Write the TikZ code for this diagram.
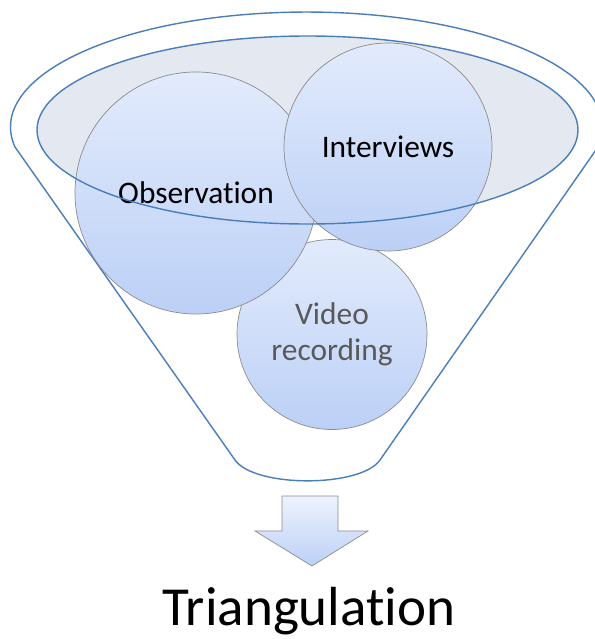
\documentclass[tikz,border=0pt]{standalone}
\usepackage{fontspec}
\setmainfont{Carlito}[Ligatures=NoCommon]
\usepackage{xcolor}
\usepackage{tikz}
\usetikzlibrary{shapes.geometric}

\definecolor{funnelblue}{RGB}{74,126,187}
\definecolor{rimgray}{RGB}{227,232,241}
\definecolor{ballborder}{RGB}{140,140,140}
\definecolor{balltop}{RGB}{226,235,252}
\definecolor{ballbottom}{RGB}{188,208,246}
\definecolor{labelgray}{RGB}{89,89,89}

\begin{document}
\begin{tikzpicture}[x=0.03cm,y=0.03cm]
                    \tikzstyle{ball}=[circle, draw=ballborder, line width=0.6pt, top color=balltop, bottom color=ballbottom, inner sep=0pt, align=center, font=\fontsize{26.8}{30.6}\selectfont]
                    \tikzstyle{funnel}=[draw=funnelblue, line width=1.2pt]
                    \useasboundingbox (0,0) rectangle (595,-639);
                    \draw [funnel, fill=white] (15,-147) arc [start angle=190, end angle=-10, x radius=296, y radius=115] -- (380,-460) to[out=235,in=305,looseness=0.6] (235,-460) -- cycle;
                    \fill [rimgray] (307.5,-130) ellipse [x radius=270.5, y radius=94];
                    \node [ball, minimum size=5.7cm, text=labelgray] (video) at (332,-334.5) {Video\\recording};
                    \node [ball, minimum size=7.26cm] (obs) at (196,-193) {Observation};
                    \node [ball, minimum size=6.24cm] (intv) at (388,-147) {Interviews};
                    \draw [funnel] (307.5,-130) ellipse [x radius=270.5, y radius=94];
                    \draw [ballborder, line width=0.6pt, top color=white!40!balltop, bottom color=ballbottom] (282,-496) -- (338,-496) -- (338,-531) -- (368,-531) -- (312,-566) -- (255,-531) -- (282,-531) -- cycle;
                    \node [anchor=base, inner sep=0pt, font=\fontsize{47}{50}\selectfont] (tri) at (309,-625) {Triangulation};
                \end{tikzpicture}
\end{document}
